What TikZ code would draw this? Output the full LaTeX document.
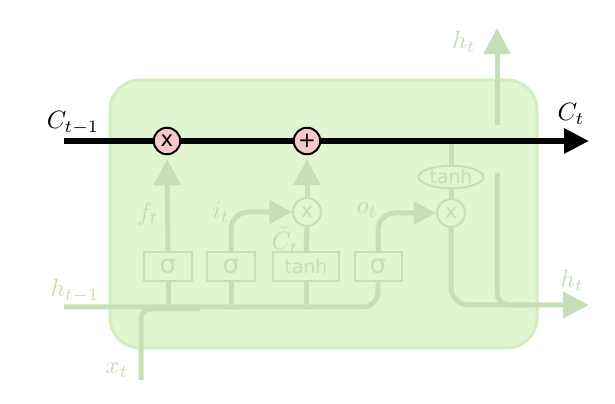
\documentclass[tikz,border=0pt]{standalone}
\usepackage{fontspec}
\newfontfamily\gatefont{DejaVu Sans}
\usetikzlibrary{arrows.meta, shapes.geometric}
\definecolor{cellbg}{HTML}{E0F5D0}
\definecolor{cellrim}{HTML}{D3ECC2}
\definecolor{faded}{HTML}{C8DEB8}
\definecolor{fadetext}{HTML}{C4DDB2}
\definecolor{pinkop}{HTML}{F7C8C8}

\tikzset{
  flow/.style={faded, line width=2pt},
  flowarrow/.style={flow, -{Triangle[length=10.5pt, width=10.5pt]}},
  cellstate/.style={black, line width=2.4pt},
  gatebox/.style={draw=faded, fill=cellbg, line width=0.8pt, inner sep=0pt,
    minimum height=11.6pt, minimum width=18.8pt, text=faded},
  pointop/.style={circle, draw=faded, fill=cellbg, line width=0.8pt, inner sep=0pt,
    minimum size=11.2pt, text=faded, font=\gatefont\fontsize{8}{8}\selectfont},
  keyop/.style={circle, draw=black, fill=pinkop, line width=0.8pt, inner sep=0pt,
    minimum size=10.6pt, font=\gatefont\fontsize{8.5}{8.5}\selectfont},
  fadelbl/.style={text=fadetext},
}

\begin{document}
\begin{tikzpicture}[x=0.4pt, y=-0.4pt]
  \useasboundingbox (0,0) rectangle (615,404);

  % the cell
  \draw[cellrim, fill=cellbg, line width=1.2pt, rounded corners=12pt] (110,80) rectangle (537,348);

  % gates
  \node[gatebox, font=\gatefont\fontsize{10.5}{10.5}\selectfont] (sigf) at (168,267) {σ};
  \node[gatebox, font=\gatefont\fontsize{10.5}{10.5}\selectfont] (sigi) at (231,267) {σ};
  \node[gatebox, minimum width=26.4pt, font=\gatefont\fontsize{7.5}{7.5}\selectfont] (tanc) at (306,267) {tanh};
  \node[gatebox, font=\gatefont\fontsize{10.5}{10.5}\selectfont] (sigo) at (378,267) {σ};

  \node[pointop] (muli) at (307,212) {x};
  \node[pointop] (mulo) at (451,213) {x};
  \node[ellipse, draw=faded, fill=cellbg, line width=0.8pt, inner sep=0pt,
    minimum width=26pt, minimum height=9pt, text=faded,
    font=\gatefont\fontsize{7.5}{7.5}\selectfont] (tanho) at (451,177) {tanh};

  \coordinate (hin) at (64,307);
  \coordinate (xin) at (141,380);
  \coordinate (tap) at (451,141);
  \coordinate (hout) at (589,305);
  \coordinate (hgap) at (497,173);
  \coordinate (hgaptop) at (497,125);
  \coordinate (htop) at (497,28);

  % inputs
  \draw[flow, rounded corners=6pt] (hin) -| (sigo.south);
  \draw[flow, rounded corners=4pt] (xin) |- (200,309);
  \foreach \g in {sigf, sigi, tanc}
    \draw[flow] (\g.south) -- (\g.south |- hin);

  % gate outputs
  \draw[flow, rounded corners=7pt, -{Triangle[length=9pt, width=9pt]}] (sigi.north) |- (muli.west);
  \draw[flow] (tanc.north) -- (muli.south);
  \draw[flow, rounded corners=7pt, -{Triangle[length=9pt, width=9pt]}] (sigo.north) |- (mulo.west);
  \draw[flow] (tap) -- (tanho.north);
  \draw[flow] (tanho.south) -- (mulo.north);

  % hidden state out
  \draw[flowarrow, rounded corners=7pt] (mulo.south) |- (hout);
  \draw[flow, rounded corners=5pt] (hgap) |- (530,305);
  \draw[flowarrow] (hgaptop) -- (htop);

  % labels
  \node[fadelbl] (lblf) at (148,214) {$f_t$};
  \node[fadelbl] (lbli) at (221,212) {$i_t$};
  \node[fadelbl, inner sep=0pt] (lblc) at (285,240) {$\tilde{C}_t$};
  \node[fadelbl] (lblo) at (367,210) {$o_t$};
  \node[fadelbl] (lblhin) at (75,291) {$h_{t-1}$};
  \node[fadelbl] (lblx) at (117,370) {$x_t$};
  \node[fadelbl] (lblhout) at (572,281) {$h_t$};
  \node[fadelbl] (lblhtop) at (464,42) {$h_t$};

  % cell state
  \coordinate (cin) at (64,141);
  \coordinate (cout) at (589,141);
  \node[keyop] (mulf) at (167,141) {x};
  \node[keyop] (addi) at (307,141) {+};
  \draw[flowarrow, shorten >=1.5pt] (sigf.north) -- (mulf.south);
  \draw[flowarrow, shorten >=1.5pt] (muli.north) -- (addi.south);
  \draw[cellstate] (cin) -- (mulf);
  \draw[cellstate] (mulf) -- (addi);
  \draw[cellstate, -{Triangle[length=10pt, width=9.6pt]}] (addi) -- (cout);
  \node (lblcin) at (73,123) {$C_{t-1}$};
  \node (lblcout) at (571,114) {$C_t$};
\end{tikzpicture}
\end{document}
